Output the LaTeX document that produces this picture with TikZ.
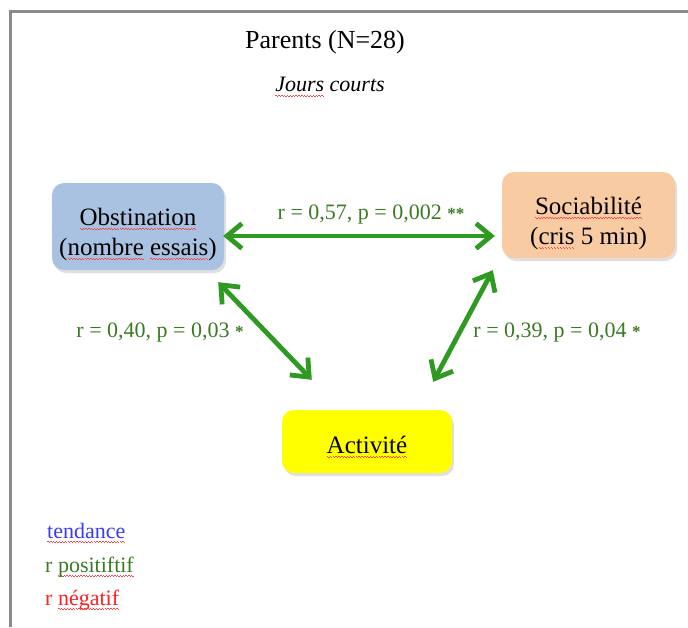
\documentclass[tikz,border=0pt]{standalone}
\usepackage{fontspec}
\setmainfont{Liberation Serif}
\usetikzlibrary{arrows.meta,shadows}

\definecolor{obsblue}{HTML}{A9C2E2}
\definecolor{socpeach}{HTML}{F9CBA2}
\definecolor{actyellow}{HTML}{FFFF00}
\definecolor{arrowgreen}{HTML}{2E9A22}
\definecolor{labelgreen}{HTML}{3A7A22}
\definecolor{legblue}{HTML}{3A3AFF}
\definecolor{legred}{HTML}{FF2020}
\definecolor{framegray}{HTML}{8A8A8A}
\definecolor{spellred}{HTML}{F04848}

% red wavy underline for flagged words (small square wave built from rules)
\newcommand\spell[1]{%
  \setbox0\hbox{#1}%
  \rlap{\color{spellred}\hbox to \wd0{\xleaders\hbox{%
    \vrule height -2.8pt depth 3.7pt width 1.4pt%
    \vrule height -3.7pt depth 4.6pt width 1.4pt}\hfill}}%
  \box0\relax}
\newcommand\stars[1]{{\fontsize{17}{17}\selectfont\bfseries #1}}
% invisible strut that lowers the text block inside a box
\newcommand\topgap[1]{\rule{0pt}{#1}}

\begin{document}
\begin{tikzpicture}[x=1pt,y=-1pt,
  varbox/.style={rounded corners=12pt, align=center, inner sep=0pt,
    font=\fontsize{25}{30}\selectfont,
    drop shadow={opacity=0.25,shadow xshift=2pt,shadow yshift=-3pt}},
  link/.style={draw=arrowgreen, line width=4.8pt,
    {Straight Barb[length=15pt,width=25pt]}-{Straight Barb[length=15pt,width=25pt]}},
  stat/.style={text=labelgreen, font=\fontsize{22}{26}\selectfont, inner sep=0pt},
  legend/.style={font=\fontsize{22}{26}\selectfont, anchor=west, inner sep=0pt}]
\useasboundingbox (0,0) rectangle (688,627);

% frame
\draw[framegray, line width=3pt] (10,627) -- (10,11) -- (688,11);

% titles
\node (title) at (325,42) {\fontsize{26}{30}\selectfont Parents (N=28)};
\node (sub) at (330,87) {\fontsize{22}{26}\selectfont\itshape \spell{Jours} courts};

% variables
\node[varbox, fill=obsblue, minimum width=172pt, minimum height=87pt] (obs) at (138,226.5)
  {\topgap{33pt}\spell{Obstination}\\(\spell{nombre} \spell{essais})};
\node[varbox, fill=socpeach, minimum width=173pt, minimum height=86pt] (soc) at (588.5,215)
  {\topgap{34pt}\spell{Sociabilité}\\(\spell{cris} 5 min)};
\node[varbox, fill=actyellow, minimum width=170pt, minimum height=63pt] (act) at (367,441.5)
  {\topgap{28pt}\spell{Activité}};

% correlations
\draw[link] ([xshift=-1pt,yshift=-9.5pt]obs.east) -- ([xshift=-7pt,yshift=-21pt]soc.west);
\draw[link] ([xshift=-6pt,yshift=-12pt]obs.south east) -- ([xshift=30pt,yshift=30pt]act.north west);
\draw[link] ([xshift=-9pt,yshift=-12pt]soc.south west) -- ([xshift=-19pt,yshift=28pt]act.north east);

\node[stat] (s1) at (371,215) {r = 0,57, p = 0,002 \stars{**}};
\node[stat] (s2) at (160,333) {r = 0,40, p = 0,03 \stars{*}};
\node[stat] (s3) at (557,333) {r = 0,39, p = 0,04 \stars{*}};

% legend
\node[legend, text=legblue] (l1) at (47,533) {\spell{tendance}};
\node[legend, text=labelgreen] (l2) at (45,567) {r \spell{positiftif}};
\node[legend, text=legred] (l3) at (45,600) {r \spell{négatif}};
\end{tikzpicture}
\end{document}
